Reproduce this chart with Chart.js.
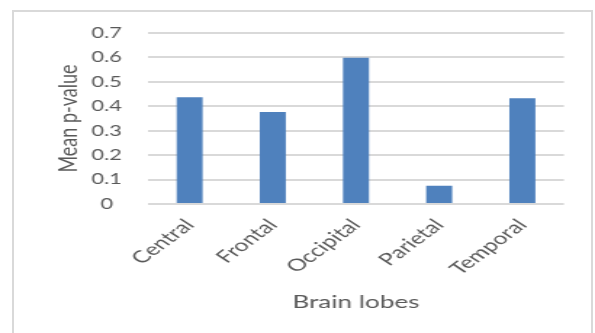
<!DOCTYPE html>
<html><head><meta charset="utf-8">
<script src="https://cdn.jsdelivr.net/npm/chart.js@4"></script>
<style>
html,body{margin:0;padding:0;background:#fff;overflow:hidden;width:595px;height:333px}
#frame{position:absolute;left:12px;top:10px;width:581px;height:340px;border:2px solid #d9d9d9;box-sizing:border-box}
#c{position:absolute;left:0;top:0;transform-origin:0 0;transform:scaleX(1.45122)}
</style></head><body>
<div id="frame"></div>
<canvas id="c" width="410" height="333"></canvas>
<script>
const categories = ['Central', 'Frontal', 'Occipital', 'Parietal', 'Temporal'];
const meanPValues = [0.437, 0.377, 0.599, 0.075, 0.433];
const yMin = 0, yMax = 0.7, yStep = 0.1;
const yAxisTitle = 'Mean p-value';
const xAxisTitle = 'Brain lobes';

const FAMILY = "Lato, 'Open Sans', sans-serif";
const TEXT = '#595959';

new Chart(document.getElementById('c'), {
  type: 'bar',
  data: {
    labels: categories,
    datasets: [{
      data: meanPValues,
      backgroundColor: '#4f81bd',
      borderWidth: 0,
      barPercentage: 0.3125,
      categoryPercentage: 1
    }]
  },
  options: {
    responsive: false,
    animation: false,
    layout: { padding: { left: 42.8, right: 21.4, top: 33, bottom: 0 } },
    plugins: {
      legend: { display: false },
      tooltip: { enabled: false },
      title: {
        display: true, text: xAxisTitle, position: 'bottom', fullSize: false, color: TEXT,
        font: { family: FAMILY, size: 18, weight: 'normal' },
        padding: { top: 7.2, bottom: 20.2 }
      }
    },
    scales: {
      x: {
        offset: true,
        grid: { display: false, drawTicks: false },
        border: { display: false },
        ticks: {
          minRotation: 47, maxRotation: 47, autoSkip: false, padding: 11,
          color: TEXT, font: { family: FAMILY, size: 17 }
        },
        afterFit: s => { s.height = 80; }
      },
      y: {
        min: yMin, max: yMax,
        ticks: { stepSize: yStep, crossAlign: 'center', padding: 18, color: TEXT, font: { family: FAMILY, size: 15 } },
        grid: { color: '#d9d9d9', lineWidth: 2, drawTicks: false },
        border: { display: false },
        title: {
          display: true, text: yAxisTitle, color: TEXT,
          font: { family: FAMILY, size: 18 },
          padding: { top: -6.7, bottom: 0 }
        },
        afterFit: s => { s.width = 59.2; }
      }
    }
  }
});
</script>
</body></html>
